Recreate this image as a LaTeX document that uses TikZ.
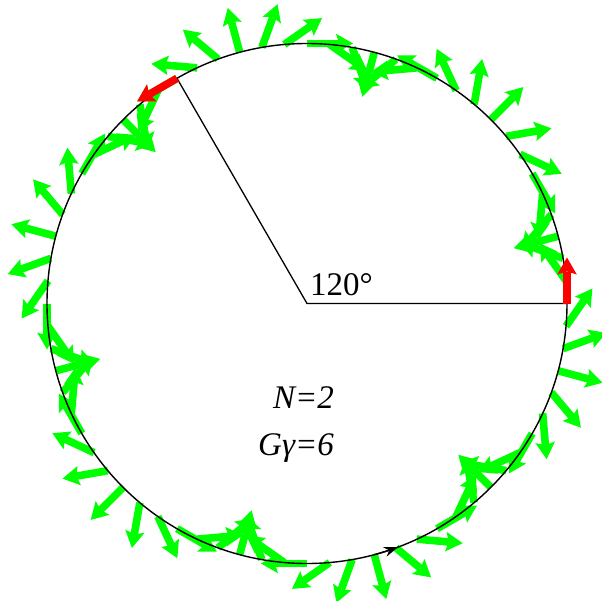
\documentclass[tikz,border=0pt]{standalone}
\usepackage{fontspec}
\setmainfont{Liberation Serif}
\usetikzlibrary{arrows.meta}
\definecolor{spingreen}{RGB}{0,255,0}
\definecolor{spinred}{RGB}{255,0,0}
\tikzset{
  ringline/.style={line width=1.4pt, black},
  radline/.style={line width=1.3pt, black},
  lbl/.style={inner sep=0pt, font=\fontsize{33}{40}\selectfont},
}
\newcommand{\spinarrowat}[2]{%
  \begin{scope}[shift={(#1:260)}, rotate={90+7*#1}]
    \fill[#2] (0,-3.8) rectangle (32,3.8);
    \fill[#2] (46,0) -- (29,9.8) -- (32,0) -- (29,-9.8) -- cycle;
  \end{scope}}
\begin{document}
\begin{tikzpicture}[x=1pt,y=1pt]
\useasboundingbox (-307,-296.5) rectangle (295,303.5);
\foreach \t in {5,10,...,355}{\spinarrowat{\t}{spingreen}}
\coordinate (O) at (0,0);
\coordinate (A) at (0:260);
\coordinate (B) at (120:260);
\draw[ringline] (O) circle (260);
\draw[radline] (A) -- (O) -- (B);
\draw[ringline, -{Stealth[length=14pt,width=10pt]}] (285:260) arc[start angle=285, end angle=290.5, radius=260];
\spinarrowat{0}{spinred}
\spinarrowat{120}{spinred}
\node[lbl, anchor=base west] (ang) at (3,8.5) {120°};
\node[lbl, anchor=base] (n) at (-3.6,-104.5) {\textit{N=2}};
\node[lbl, anchor=base] (g) at (-11,-151.5) {\textit{Gγ=6}};
\end{tikzpicture}
\end{document}
